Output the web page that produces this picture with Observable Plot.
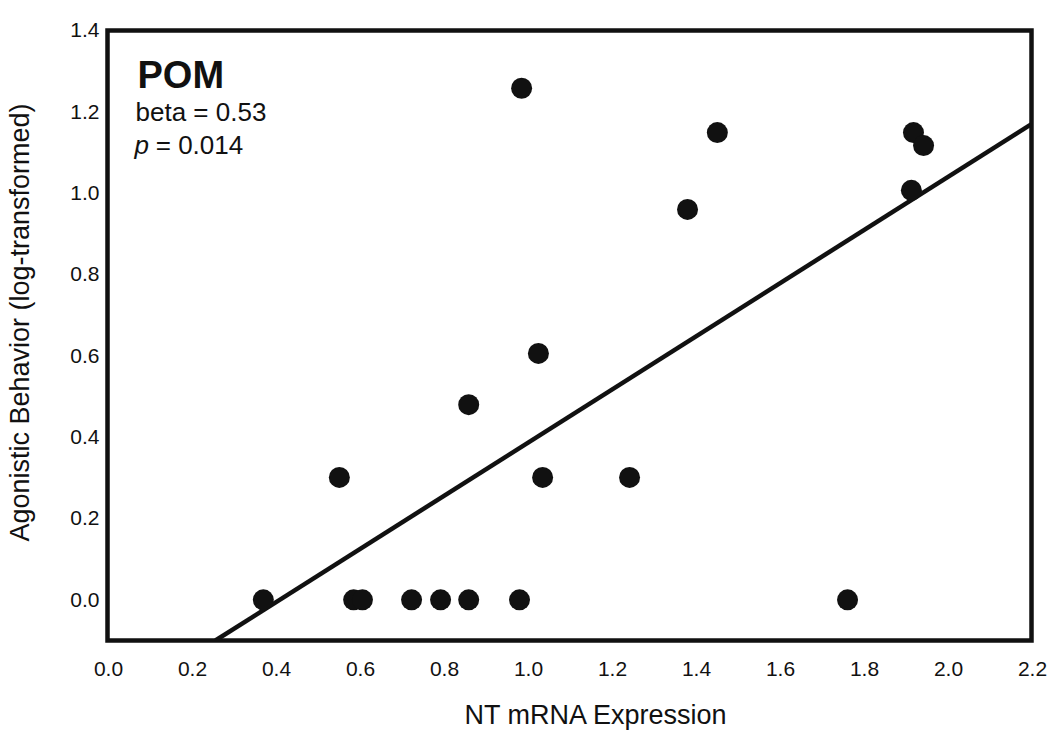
<!DOCTYPE html>
<html>
<head>
<meta charset="utf-8">
<script src="https://cdn.jsdelivr.net/npm/d3@7"></script>
<script src="https://cdn.jsdelivr.net/npm/@observablehq/plot@0.6"></script>
<style>
  html, body { margin: 0; padding: 0; background: #fff; }
  #chart { width: 1050px; height: 731px; }
</style>
</head>
<body>
<div id="chart"></div>
<script>
// NT mRNA expression (x) and agonistic behavior (y) for each fish
const ntExpression = [0.371, 0.552, 0.586, 0.607, 0.724, 0.793, 0.860, 0.860, 0.981, 0.986, 1.026, 1.036, 1.243, 1.381, 1.452, 1.762, 1.914, 1.919, 1.943];
const agonistic    = [0.000, 0.301, 0.000, 0.000, 0.000, 0.000, 0.000, 0.480, 0.000, 1.258, 0.606, 0.301, 0.301, 0.960, 1.149, 0.000, 1.007, 1.149, 1.117];

// regression line endpoints (as drawn)
const fitX = [0.257, 2.2];
const fitY = [-0.1, 1.17];

const xTicks = [0.0, 0.2, 0.4, 0.6, 0.8, 1.0, 1.2, 1.4, 1.6, 1.8, 2.0, 2.2];
const yTicks = [0.0, 0.2, 0.4, 0.6, 0.8, 1.0, 1.2, 1.4];

const xTitle = "NT mRNA Expression";
const yTitle = "Agonistic Behavior (log-transformed)";
const regionLabel = "POM";
const betaLabel = "beta = 0.53";
const pLetter = "p";
const pRest = " = 0.014";

const points = ntExpression.map((x, i) => ({x, y: agonistic[i]}));
const fit = fitX.map((x, i) => ({x, y: fitY[i]}));
const ink = "#111";
const fmt = d3.format(".1f");

const chart = Plot.plot({
  width: 1050,
  height: 731,
  marginLeft: 107,
  marginRight: 19,
  marginTop: 30,
  marginBottom: 91,
  style: {fontFamily: "'Liberation Sans', Arial, Helvetica, sans-serif", color: ink, background: "#fff"},
  x: {domain: [0, 2.2], axis: null},
  y: {domain: [-0.1, 1.4], axis: null},
  marks: [
    Plot.text(xTicks, {x: d => d, text: d => fmt(d), frameAnchor: "bottom", dy: 21, dx: 1, lineAnchor: "top", textAnchor: "middle", fontSize: 21, fill: ink, ariaLabel: "tick-labels"}),
    Plot.text(yTicks, {y: d => d, text: d => fmt(d), frameAnchor: "left", dx: -8, lineAnchor: "middle", textAnchor: "end", fontSize: 21, fill: ink, ariaLabel: "tick-labels"}),
    Plot.line(fit, {x: "x", y: "y", stroke: ink, strokeWidth: 4.5, strokeLinecap: "butt", clip: true}),
    Plot.dot(points, {x: "x", y: "y", r: 10.5, fill: ink, stroke: "none"}),
    Plot.frame({stroke: ink, strokeWidth: 4.5}),
    Plot.text([regionLabel], {text: d => d, frameAnchor: "top-left", dx: 30, dy: 57, textAnchor: "start", lineAnchor: "bottom", fontSize: 38, fontWeight: "bold", fill: ink}),
    Plot.text([betaLabel], {text: d => d, frameAnchor: "top-left", dx: 28, dy: 90, textAnchor: "start", lineAnchor: "bottom", fontSize: 26, fill: ink}),
    Plot.text([pLetter], {text: d => d, frameAnchor: "top-left", dx: 27, dy: 123, textAnchor: "start", lineAnchor: "bottom", fontSize: 26, fontStyle: "italic", fill: ink}),
    Plot.text([pRest], {text: d => d, frameAnchor: "top-left", dx: 41, dy: 123, textAnchor: "start", lineAnchor: "bottom", fontSize: 26, fill: ink}),
    Plot.text([xTitle], {text: d => d, frameAnchor: "bottom", dx: 26, dy: 83, textAnchor: "middle", lineAnchor: "bottom", fontSize: 27, fill: ink}),
    Plot.text([yTitle], {text: d => d, frameAnchor: "left", dx: -87, dy: -13, rotate: -90, textAnchor: "middle", lineAnchor: "middle", fontSize: 27, fill: ink})
  ]
});

d3.select(chart)
  .selectAll("g[aria-label='tick-labels']")
  .attr("letter-spacing", "1.5px");
document.getElementById("chart").appendChild(chart);
</script>
</body>
</html>
